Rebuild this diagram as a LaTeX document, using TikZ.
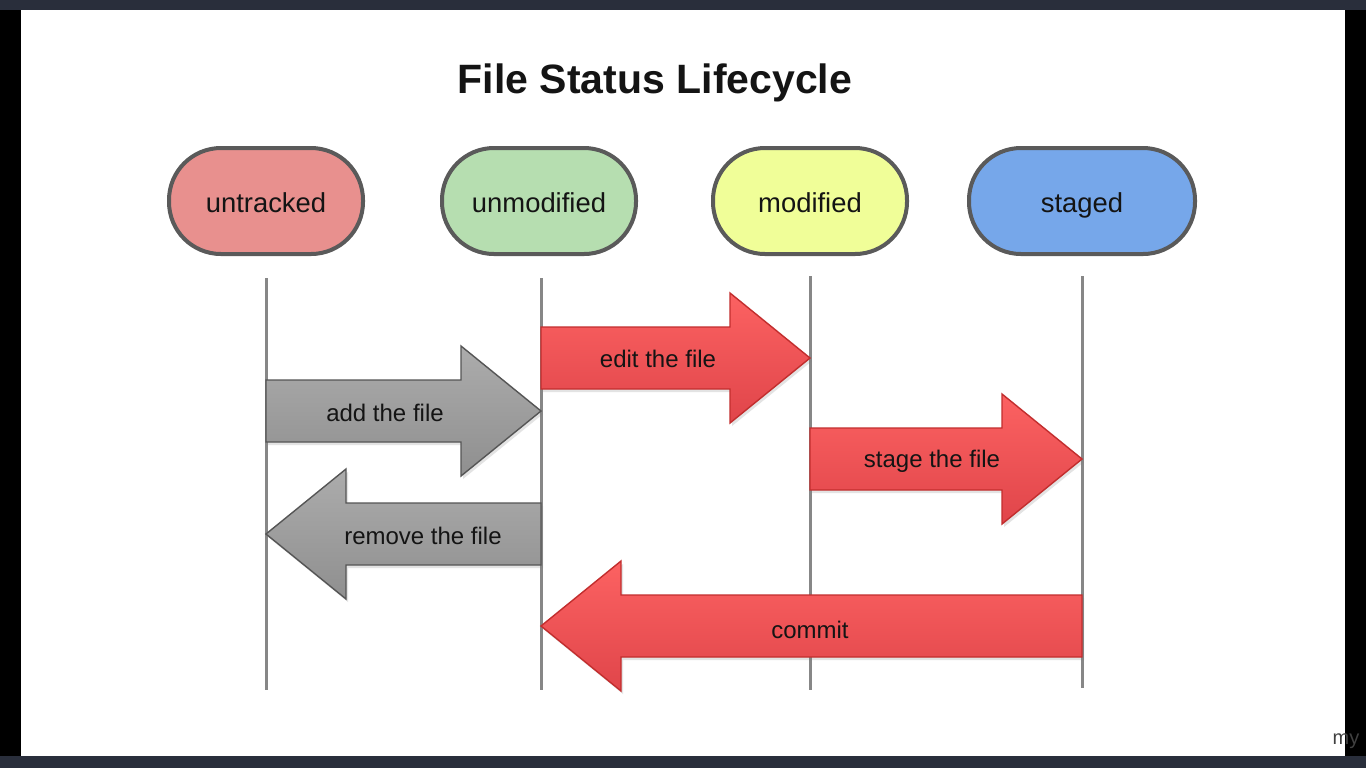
\documentclass[tikz,border=0pt]{standalone}
\usepackage{fontspec}
\setmainfont{Liberation Sans}
\usetikzlibrary{calc,shadows}
\definecolor{barcol}{HTML}{292E3B}
\definecolor{untr}{HTML}{E8908E}
\definecolor{unmod}{HTML}{B6DEB0}
\definecolor{modc}{HTML}{F0FE98}
\definecolor{stgc}{HTML}{76A7EA}
\definecolor{nodeline}{HTML}{5A5A5A}
\definecolor{lifeline}{HTML}{878787}
\definecolor{redtop}{HTML}{FC6262}
\definecolor{redbot}{HTML}{E0454A}
\definecolor{redline}{HTML}{C22E2E}
\definecolor{graytop}{HTML}{ACACAC}
\definecolor{graybot}{HTML}{8F8F8F}
\definecolor{grayline}{HTML}{555555}
\definecolor{txt}{HTML}{141414}
\newcommand{\fatarrow}[4]{% style, tail, tip, sign (-1 right, 1 left)
  \path[#1] let \p1=(#2), \p2=(#3) in
    (\x1,{\y2+15.5pt}) -- ({\x2+(#4)*40pt},{\y2+15.5pt}) -- ({\x2+(#4)*40pt},{\y2+32.5pt})
    -- (\x2,\y2) -- ({\x2+(#4)*40pt},{\y2-32.5pt}) -- ({\x2+(#4)*40pt},{\y2-15.5pt})
    -- (\x1,{\y2-15.5pt}) -- cycle;}
\begin{document}
\begin{tikzpicture}[x=0.5pt,y=-0.5pt,
  state/.style={draw=nodeline, line width=2pt, rounded corners=26pt, minimum height=53pt,
    minimum width=97pt, font=\fontsize{13.7}{16}\selectfont, text=txt,
    text height=11pt, text depth=0pt},
  life/.style={draw=lifeline, line width=1.5pt},
  redarrow/.style={draw=redline, line width=0.7pt, top color=redtop, bottom color=redbot,
    drop shadow={opacity=0.22, shadow xshift=1pt, shadow yshift=-1.5pt}},
  grayarrow/.style={draw=grayline, line width=0.7pt, top color=graytop, bottom color=graybot,
    drop shadow={opacity=0.22, shadow xshift=1pt, shadow yshift=-1.5pt}},
  alabel/.style={font=\fontsize{12}{14}\selectfont, text=txt}]
\useasboundingbox (0,0) rectangle (1366,768);
\fill[barcol] (0,0) rectangle (1366,768);
\fill[black] (0,10) rectangle (1366,756);
\fill[white] (21,10) rectangle (1345,756);

\node[font=\bfseries\fontsize{20.5}{24}\selectfont, text=txt] (title) at (655,83) {File Status Lifecycle};

\node[state, fill=untr] (untracked) at (266,201) {untracked};
\node[state, fill=unmod] (unmodified) at (539,201) {unmodified};
\node[state, fill=modc] (modified) at (810,201) {modified};
\node[state, fill=stgc, minimum width=113pt] (staged) at (1082,201) {staged};

\coordinate (l1t) at (266,278); \coordinate (l1b) at (266,690);
\coordinate (l2t) at (541,278); \coordinate (l2b) at (541,690);
\coordinate (l3t) at (810,276); \coordinate (l3b) at (810,690);
\coordinate (l4t) at (1082,276); \coordinate (l4b) at (1082,688);
\draw[life] (l1t) -- (l1b);
\draw[life] (l2t) -- (l2b);
\draw[life] (l3t) -- (l3b);
\draw[life] (l4t) -- (l4b);

\coordinate (addS) at (266,411);  \coordinate (addE) at (541,411);
\coordinate (editS) at (541,358); \coordinate (editE) at (810,358);
\coordinate (stgS) at (810,459);  \coordinate (stgE) at (1082,459);
\coordinate (remS) at (541,534);  \coordinate (remE) at (266,534);
\coordinate (comS) at (1082,626); \coordinate (comE) at (541,626);

\fatarrow{redarrow}{editS}{editE}{-1}
\fatarrow{grayarrow}{addS}{addE}{-1}
\fatarrow{redarrow}{stgS}{stgE}{-1}
\fatarrow{grayarrow}{remS}{remE}{1}
\fatarrow{redarrow}{comS}{comE}{1}

\node[alabel] (addL) at (385,413) {add the file};
\node[alabel] (editL) at (658,359) {edit the file};
\node[alabel] (stgL) at (932,461) {stage the file};
\node[alabel] (remL) at (423,536) {remove the file};
\node[alabel] (comL) at (810,630) {commit};

\node[font=\fontsize{10}{12}\selectfont, text=black!75] (wm) at (1346,741) {my};
\end{tikzpicture}
\end{document}
